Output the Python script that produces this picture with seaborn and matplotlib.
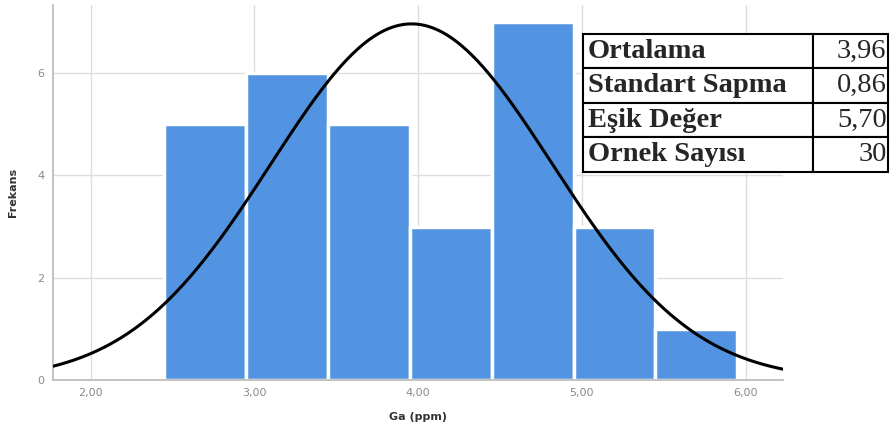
import numpy as np
import pandas as pd
import matplotlib
matplotlib.use("Agg")
import matplotlib.pyplot as plt
import seaborn as sns

# Data
bin_edges = [2.45, 2.95, 3.45, 3.95, 4.45, 4.95, 5.45, 5.95]
counts = [5, 6, 5, 3, 7, 3, 1]
mean_val = 3.96
std_val = 0.86
n_samples = 30
table_labels = ["Ortalama", "Standart Sapma", "Eşik Değer", "Ornek Sayısı"]
table_values = ["3,96", "0,86", "5,70", "30"]
x_ticks = [2.0, 3.0, 4.0, 5.0, 6.0]
x_ticklabels = ["2,00", "3,00", "4,00", "5,00", "6,00"]
y_ticks = [0, 2, 4, 6]

sns.set_theme(style="whitegrid")
plt.rcParams['font.family'] = ['DejaVu Sans']

fig = plt.figure(figsize=(8.93, 4.41), dpi=100)
ax = fig.add_axes([0.0594, 0.138, 0.8176, 0.851])

centers = [(bin_edges[i] + bin_edges[i + 1]) / 2 for i in range(len(counts))]
df = pd.DataFrame({"x": centers, "w": counts})
sns.histplot(data=df, x="x", weights="w", bins=bin_edges, ax=ax,
             color="#5294E2", alpha=1.0, edgecolor="white", linewidth=2.5, zorder=2)

xs = np.linspace(1.77, 6.23, 400)
bw = bin_edges[1] - bin_edges[0]
ys = n_samples * bw / (std_val * np.sqrt(2 * np.pi)) * np.exp(-0.5 * ((xs - mean_val) / std_val) ** 2)
sns.lineplot(x=xs, y=ys, ax=ax, color="black", linewidth=2.2, zorder=3)

ax.set_xlim(1.77, 6.23)
ax.set_ylim(0, 7.33)
ax.set_xticks(x_ticks)
ax.set_xticklabels(x_ticklabels)
ax.set_yticks(y_ticks)
ax.tick_params(axis="both", length=0, labelsize=8, colors="#8a8a8a", pad=6)
ax.grid(True, color="#dedede", linewidth=1.0, zorder=0)
ax.set_axisbelow(True)
for s in ["top", "right"]:
    ax.spines[s].set_visible(False)
for s in ["left", "bottom"]:
    ax.spines[s].set_visible(True)
    ax.spines[s].set_color("#b8b8b8")
    ax.spines[s].set_linewidth(1.2)
ax.set_xlabel("Ga (ppm)", fontsize=8, fontweight="bold", color="#333333", labelpad=10)
ax.set_ylabel("Frekans", fontsize=8, fontweight="bold", color="#333333", labelpad=14)

# Statistics table
tax = fig.add_axes([0.653, 0.610, 0.3415, 0.313])
tax.axis("off")
cells = [[l, v] for l, v in zip(table_labels, table_values)]
tbl = tax.table(cellText=cells, bbox=[0, 0, 1, 1], colWidths=[0.754, 0.246])
tbl.auto_set_font_size(False)
for (r, c), cell in tbl.get_celld().items():
    cell.set_edgecolor("black")
    cell.set_linewidth(1.5)
    cell.set_facecolor("white")
    t = cell.get_text()
    t.set_fontfamily("Liberation Serif")
    t.set_fontsize(20.5)
    if c == 0:
        t.set_fontweight("bold")
        t.set_ha("left")
        cell._loc = "left"
        cell.PAD = 0.02
    else:
        t.set_ha("right")
        cell._loc = "right"
        cell.PAD = 0.02

fig.savefig("out.png", dpi=100)
